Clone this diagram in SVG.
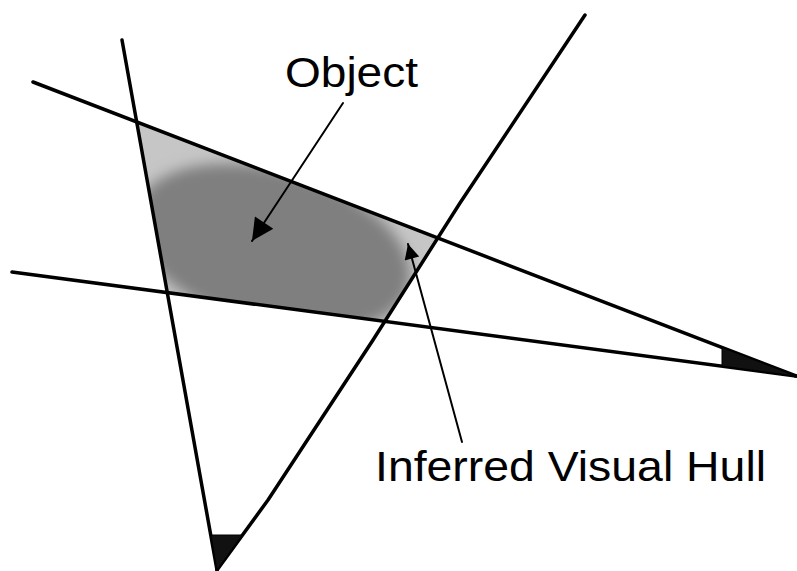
<svg xmlns="http://www.w3.org/2000/svg" width="797" height="571" viewBox="0 0 797 571">
  <style>
    .ray { fill: none; stroke: #000; stroke-width: 3.5; stroke-linecap: round; stroke-linejoin: round; }
    .leader { fill: none; stroke: #000; stroke-width: 2; stroke-linecap: round; }
    .wedge { fill: #111; stroke: #000; stroke-width: 1; }
    .label { font-family: "Liberation Sans", Arial, sans-serif; font-size: 42px; fill: #000; }
  </style>
  <defs>
    <clipPath id="hullClip">
      <polygon points="137,122 438,238 385,321 167,293"/>
    </clipPath>
    <filter id="soft" x="-30%" y="-30%" width="160%" height="160%">
      <feGaussianBlur stdDeviation="7"/>
    </filter>
    <marker id="headBig" viewBox="0 0 10 10" refX="10" refY="5" markerWidth="32" markerHeight="22" markerUnits="userSpaceOnUse" orient="auto">
      <path d="M0,0 L10,5 L0,10 z" fill="#000"/>
    </marker>
    <marker id="headSmall" viewBox="0 0 10 10" refX="10" refY="5" markerWidth="24" markerHeight="15" markerUnits="userSpaceOnUse" orient="auto">
      <path d="M0,0 L10,5 L0,10 z" fill="#000"/>
    </marker>
  </defs>

  <g id="hull">
    <polygon points="137,122 438,238 385,321 167,293" fill="#c6c6c6"/>
  </g>

  <g id="object" clip-path="url(#hullClip)">
    <ellipse cx="272" cy="248" rx="142" ry="78" transform="rotate(16 272 248)" fill="#7f7f7f" filter="url(#soft)"/>
  </g>

  <g id="rays">
    <line class="ray" x1="122" y1="40" x2="217" y2="570"/>
    <polyline class="ray" points="585,15 460,203 373,340 268,500 217,570"/>
    <line class="ray" x1="33" y1="82" x2="796" y2="376"/>
    <line class="ray" x1="12" y1="272" x2="796" y2="376"/>
  </g>

  <g id="cameras">
    <polygon class="wedge" points="722,347.5 722,366 796,376"/>
    <polygon class="wedge" points="211,535 242,535 217,570"/>
  </g>

  <g id="connectors">
    <line class="leader" x1="343" y1="103" x2="252" y2="241" marker-end="url(#headBig)"/>
    <line class="leader" x1="462" y1="442" x2="408" y2="244" marker-end="url(#headSmall)"/>
  </g>

  <g id="label-object">
    <text class="label" x="285" y="87" textLength="133" lengthAdjust="spacingAndGlyphs">Object</text>
  </g>
  <g id="label-hull">
    <text class="label" x="375" y="481" textLength="391" lengthAdjust="spacingAndGlyphs">Inferred Visual Hull</text>
  </g>
</svg>
